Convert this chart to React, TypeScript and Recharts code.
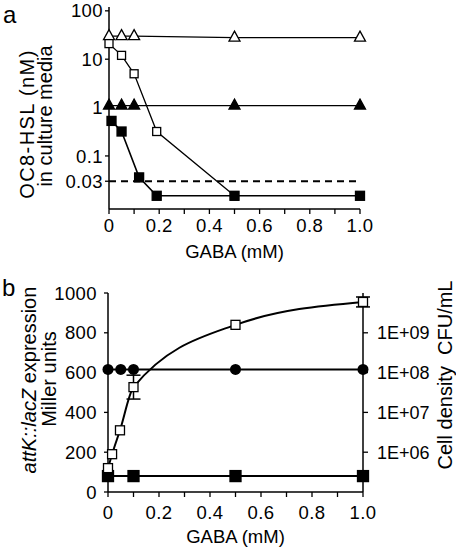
import React from "react";
import { LineChart, Line, XAxis, YAxis, ReferenceLine, ErrorBar } from "recharts";

// panel a: OC8-HSL in culture media (nM)
const openTriDose = [0, 0.05, 0.1, 0.5, 1.0];
const openTriHsl = [30, 30, 30, 28, 28];
const filledTriDose = [0, 0.05, 0.1, 0.5, 1.0];
const filledTriHsl = [1.1, 1.1, 1.1, 1.1, 1.1];
const openSqDoseA = [0, 0.05, 0.1, 0.19, 0.5];
const openSqHsl = [21, 12, 5, 0.32, 0.015];
const filledSqDoseA = [0.01, 0.05, 0.12, 0.19, 0.5, 1.0];
const filledSqHsl = [0.53, 0.32, 0.036, 0.015, 0.015, 0.015];
const detectionLimit = 0.03;
const hslTicks = [0.03, 0.1, 1, 10, 100];

// panel b: attK::lacZ expression (Miller units) and cell density (CFU/mL)
const openSqDoseB = [0, 0.016, 0.047, 0.1, 0.5, 1.0];
const millerOpen = [120, 190, 310, 527, 840, 955];
const millerOpenErr = [0, 0, 0, 60, 0, 25];
const filledSqDoseB = [0, 0.1, 0.5, 1.0];
const millerFilled = [80, 80, 80, 80];
const circleDose = [0, 0.05, 0.1, 0.5, 1.0];
const cellDensity = [1.2e8, 1.2e8, 1.2e8, 1.2e8, 1.2e8];
const millerTicks = [0, 200, 400, 600, 800, 1000];
const densityTicks = [1e6, 1e7, 1e8, 1e9];

const gabaTicks = [0, 0.1, 0.2, 0.3, 0.4, 0.5, 0.6, 0.7, 0.8, 0.9, 1.0];

const FONT = "'Liberation Sans', Arial, sans-serif";

const zip = (xs: number[], ys: number[], errs?: number[]) =>
  xs.map((x, i) => ({ x, y: ys[i], err: errs ? errs[i] : 0 }));

const gabaLabel = (v: number) => {
  const k = Math.round(v * 10);
  if (k % 2) return "";
  return k === 0 ? "0" : (k / 10).toFixed(1);
};

const sciLabel = (v: number) =>
  "1E+" + String(Math.round(Math.log10(v))).padStart(2, "0");

// markers
const triangle = (fill: string) => (p: any) => (
  <path
    key={p.index}
    d={`M${p.cx},${p.cy - 6.5} L${p.cx + 5.5},${p.cy + 3.5} L${p.cx - 5.5},${p.cy + 3.5} Z`}
    fill={fill}
    stroke="#000"
    strokeWidth={1.3}
  />
);

const square = (fill: string, s: number) => (p: any) => (
  <rect
    key={p.index}
    x={p.cx - s / 2}
    y={p.cy - s / 2}
    width={s}
    height={s}
    fill={fill}
    stroke="#000"
    strokeWidth={1.3}
  />
);

const circle = (p: any) => <circle key={p.index} cx={p.cx} cy={p.cy} r={5.5} fill="#000" />;

// rotated two-line axis titles
const vTitle = (items: { x: number; y: number; parts: { t: string; italic?: boolean }[]; spacing?: number }[]) => () => (
  <g>
    {items.map((it, i) => (
      <text
        key={i}
        x={it.x}
        y={it.y}
        transform={`rotate(-90, ${it.x}, ${it.y})`}
        textAnchor="middle"
        fontSize={20}
        fill="#000"
        style={{ whiteSpace: "pre", letterSpacing: it.spacing || 0 }}
      >
        {it.parts.map((p, j) => (
          <tspan key={j} fontStyle={p.italic ? "italic" : "normal"}>
            {p.t}
          </tspan>
        ))}
      </text>
    ))}
  </g>
);

const axisLine = { stroke: "#000", strokeWidth: 1.5 };
const tickLine = { stroke: "#000", strokeWidth: 1.3 };
const tickText = { fill: "#000", fontSize: 18.5, letterSpacing: 0.4 };

export default function App() {
  return (
    <div style={{ position: "absolute", left: 0, top: 0, width: 456, height: 549, background: "#fff", fontFamily: FONT }}>
      <svg width={456} height={549} style={{ position: "absolute", left: 0, top: 0 }}>
        <text x={3} y={23} fontSize={24} fill="#000">a</text>
        <text x={2} y={296} fontSize={24} fill="#000">b</text>
      </svg>

      <div style={{ position: "absolute", left: 0, top: 0 }}>
        <LineChart width={456} height={266} margin={{ top: 7, right: 96, bottom: 0, left: 0 }}>
          <XAxis
            type="number"
            dataKey="x"
            domain={[0, 1]}
            ticks={gabaTicks}
            tickFormatter={gabaLabel}
            interval={0}
            height={57}
            tickSize={5}
            tickMargin={5}
            axisLine={axisLine}
            tickLine={tickLine}
            tick={tickText}
            label={{ value: "GABA (mM)", position: "insideBottom", offset: 8, fill: "#000", fontSize: 18.5 }}
          />
          <YAxis
            type="number"
            scale="log"
            domain={[0.008, 120]}
            allowDataOverflow
            ticks={hslTicks}
            tickFormatter={(v: number) => String(v)}
            interval={0}
            width={109}
            tickSize={4}
            tickMargin={2}
            axisLine={axisLine}
            tickLine={tickLine}
            tick={tickText}
            label={{
              content: vTitle([
                { x: 34, y: 124, parts: [{ t: "OC8-HSL (nM)" }], spacing: 1.4 },
                { x: 52, y: 116, parts: [{ t: "in culture media" }] },
              ]),
            }}
          />
          <ReferenceLine y={detectionLimit} stroke="#000" strokeWidth={2} strokeDasharray="7 5" />
          <Line data={zip(openTriDose, openTriHsl)} dataKey="y" type="linear" stroke="#000" strokeWidth={1.3}
            dot={triangle("#fff")} activeDot={false} isAnimationActive={false} />
          <Line data={zip(filledTriDose, filledTriHsl)} dataKey="y" type="linear" stroke="#000" strokeWidth={1.3}
            dot={triangle("#000")} activeDot={false} isAnimationActive={false} />
          <Line data={zip(openSqDoseA, openSqHsl)} dataKey="y" type="linear" stroke="#000" strokeWidth={1.3}
            dot={square("#fff", 8)} activeDot={false} isAnimationActive={false} />
          <Line data={zip(filledSqDoseA, filledSqHsl)} dataKey="y" type="linear" stroke="#000" strokeWidth={1.6}
            dot={square("#000", 9)} activeDot={false} isAnimationActive={false} />
        </LineChart>
      </div>

      <div style={{ position: "absolute", left: 0, top: 270 }}>
        <LineChart width={456} height={279} margin={{ top: 23, right: 0, bottom: 0, left: 0 }}>
          <XAxis
            type="number"
            dataKey="x"
            domain={[0, 1]}
            ticks={gabaTicks}
            tickFormatter={gabaLabel}
            interval={0}
            height={57}
            tickSize={5}
            tickMargin={9}
            axisLine={axisLine}
            tickLine={tickLine}
            tick={tickText}
            label={{ value: "GABA (mM)", position: "insideBottom", offset: 6, fill: "#000", fontSize: 18.5 }}
          />
          <YAxis
            yAxisId="left"
            type="number"
            domain={[0, 1000]}
            ticks={millerTicks}
            interval={0}
            width={108}
            tickSize={4}
            tickMargin={7}
            axisLine={axisLine}
            tickLine={tickLine}
            tick={tickText}
            label={{
              content: vTitle([
                { x: 36, y: 110, parts: [{ t: "attK::lacZ", italic: true }, { t: " expression" }] },
                { x: 56, y: 109, parts: [{ t: "Miller units" }] },
              ]),
            }}
          />
          <YAxis
            yAxisId="right"
            orientation="right"
            type="number"
            scale="log"
            domain={[1e5, 1e10]}
            allowDataOverflow
            ticks={densityTicks}
            tickFormatter={sciLabel}
            interval={0}
            width={93}
            tickSize={5}
            tickMargin={9}
            axisLine={axisLine}
            tickLine={tickLine}
            tick={{ fill: "#000", fontSize: 18 }}
            label={{
              content: vTitle([{ x: 452, y: 105, parts: [{ t: "Cell density  CFU/mL" }] }]),
            }}
          />
          <Line yAxisId="left" data={zip(filledSqDoseB, millerFilled)} dataKey="y" type="linear" stroke="#000" strokeWidth={2}
            dot={square("#000", 11)} activeDot={false} isAnimationActive={false} />
          <Line yAxisId="right" data={zip(circleDose, cellDensity)} dataKey="y" type="linear" stroke="#000" strokeWidth={2}
            dot={circle} activeDot={false} isAnimationActive={false} />
          <Line yAxisId="left" data={zip(openSqDoseB, millerOpen, millerOpenErr)} dataKey="y" type="monotone" stroke="#000" strokeWidth={2}
            dot={square("#fff", 9)} activeDot={false} isAnimationActive={false}>
            <ErrorBar dataKey="err" direction="y" width={7} stroke="#000" strokeWidth={1.5} />
          </Line>
        </LineChart>
      </div>
    </div>
  );
}
